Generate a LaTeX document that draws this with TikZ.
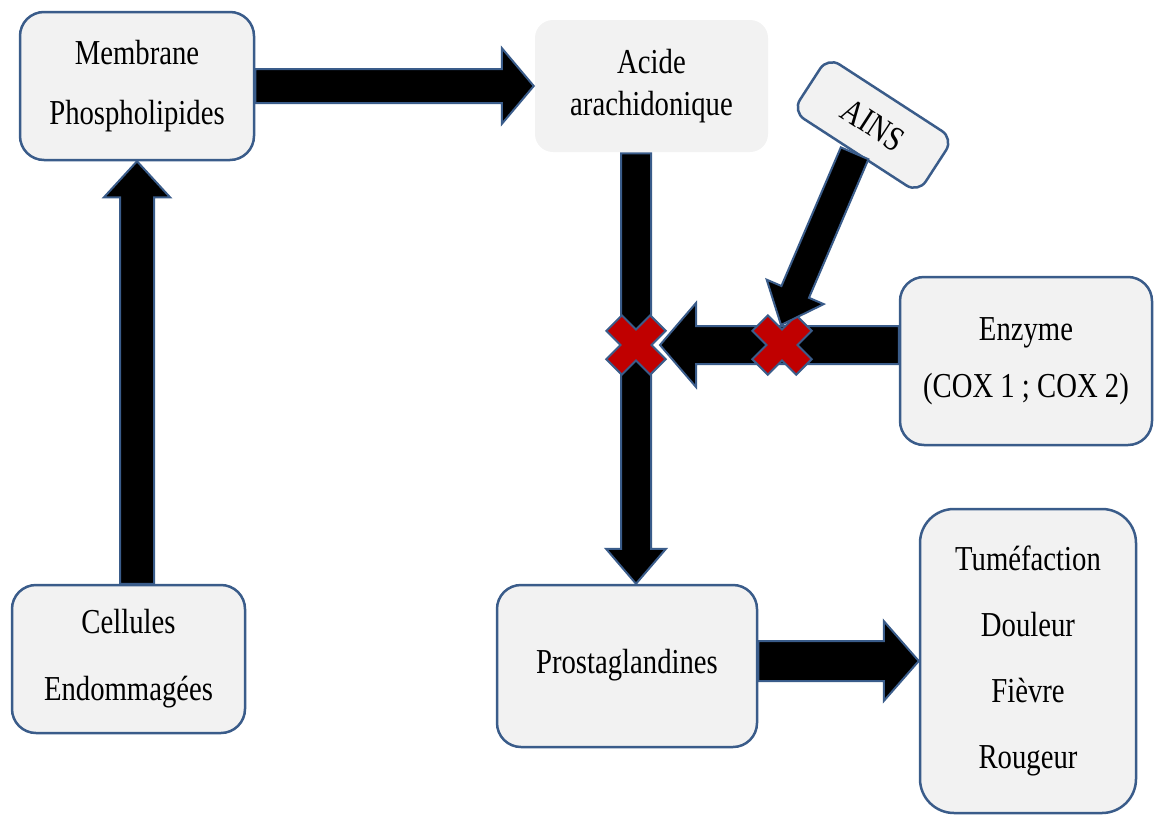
\documentclass[tikz,border=0pt]{standalone}
\usepackage{fontspec}
\setmainfont{Liberation Serif}[FakeStretch=0.82]
\usetikzlibrary{calc}
\definecolor{boxfill}{HTML}{F2F2F2}
\definecolor{edge}{HTML}{3A5C8A}
\definecolor{xred}{HTML}{C00000}
\tikzset{
  box/.style={draw=edge, line width=2.5pt, fill=boxfill, rounded corners=24pt, align=center, inner sep=0pt},
  blockarr/.style={fill=black, draw=edge, line width=2pt, line join=miter},
  redmark/.style={fill=xred, draw=edge, line width=2pt, line join=miter},
  fs/.style={font=\fontsize{35}{#1}\selectfont}
}
\newcommand\blockarrow[5]{%
  \draw[blockarr] let \p1=#1, \p2=#2,
    \n1={atan2(\y2-\y1,\x2-\x1)}, \n2={veclen(\x2-\x1,\y2-\y1)} in
    [shift={(\p1)}, rotate=\n1]
    (0pt,#3pt) -- ({\n2-#5pt},#3pt) -- ({\n2-#5pt},#4pt) -- ({\n2*1pt},0pt)
    -- ({\n2-#5pt},-#4pt) -- ({\n2-#5pt},-#3pt) -- (0pt,-#3pt) -- cycle;}
\newcommand\redcross[1]{%
  \draw[redmark, shift={(#1)}, rotate=45] (11,31) -- (11,11) -- (31,11) -- (31,-11)
    -- (11,-11) -- (11,-31) -- (-11,-31) -- (-11,-11) -- (-31,-11) -- (-31,11)
    -- (-11,11) -- (-11,31) -- cycle;}
\begin{document}
\begin{tikzpicture}[x=1pt,y=-1pt]
\useasboundingbox (0,0) rectangle (1154,814);
\node[box, fs=60, minimum width=234pt, minimum height=148pt] (mem) at (137,86) {Membrane\\Phospholipides};
\node[box, draw=none, rounded corners=18pt, fs=42, minimum width=233pt, minimum height=132pt] (acide) at (651.5,86) {Acide\\arachidonique};
\node[box, rotate=-33, rounded corners=14pt, fs=40, minimum width=150pt, minimum height=65pt] (ains) at (873,125) {AINS};
\node[box, fs=57, minimum width=252pt, minimum height=168pt] (enz) at (1026,361) {Enzyme\\(COX 1 ; COX 2)};
\node[box, fs=67, minimum width=233pt, minimum height=148pt] (cel) at (128.5,659) {Cellules\\Endommagées};
\node[box, fs=40, minimum width=260pt, minimum height=162pt] (prost) at (627,666) {\raisebox{9pt}{Prostaglandines}};
\node[box, rounded corners=34pt, fs=66, minimum width=216pt, minimum height=304pt] (sym) at (1028,661) {Tuméfaction\\Douleur\\Fièvre\\Rougeur};
\coordinate (xl) at (636,345);
\coordinate (xr) at (782,345);
\coordinate (enztip) at (660,345);
\coordinate (ainstip) at (781,325);
\blockarrow{(mem.east)}{(acide.west)}{17}{38}{32}
\blockarrow{(acide.south -| xl)}{(prost.north -| xl)}{15}{30}{35}
\blockarrow{(cel.north -| mem.south)}{(mem.south)}{17}{33}{36}
\blockarrow{(sym.west -| prost.east)}{(sym.west)}{20}{40}{35}
\blockarrow{(enz.west |- xl)}{(enztip)}{19}{42}{36}
\redcross{xl}
\redcross{xr}
\blockarrow{(ains.south)}{(ainstip)}{15}{31}{36}
\end{tikzpicture}
\end{document}
